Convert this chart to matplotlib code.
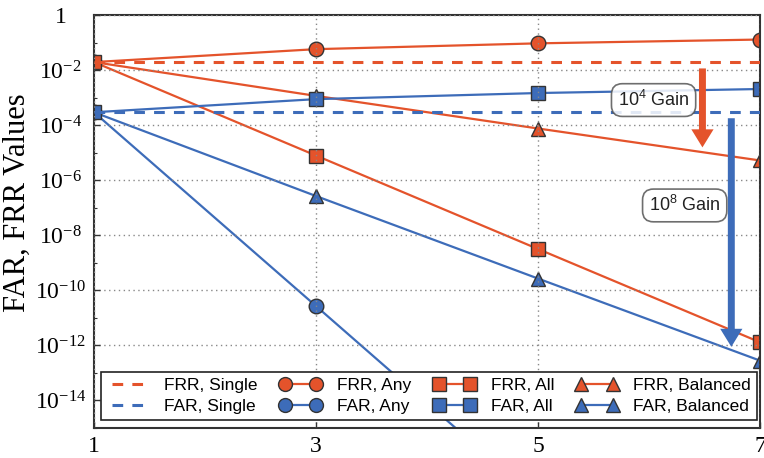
import matplotlib
matplotlib.use("Agg")
import matplotlib.pyplot as plt
import numpy as np

# ---- data ----
n_values = [1, 3, 5, 7]
frr_single = [2e-2, 2e-2, 2e-2, 2e-2]
far_single = [3e-4, 3e-4, 3e-4, 3e-4]
frr_any = [2e-2, 5.9e-2, 9.6e-2, 1.32e-1]
far_any = [3e-4, 2.7e-11, 2.4e-18, 2.2e-25]
frr_all = [2e-2, 8e-6, 3.2e-9, 1.3e-12]
far_all = [3e-4, 9e-4, 1.5e-3, 2.1e-3]
frr_bal = [2e-2, 1.18e-3, 7.7e-5, 5.3e-6]
far_bal = [3e-4, 2.7e-7, 2.7e-10, 2.8e-13]

ytick_vals = [1, 1e-2, 1e-4, 1e-6, 1e-8, 1e-10, 1e-12, 1e-14]
ytick_labels = ["1"] + [r"$\mathregular{10^{-%d}}$" % k for k in range(2, 15, 2)]
xtick_vals = [1, 3, 5, 7]
xtick_labels = ["1", "3", "5", "7"]

RED = "#E4532B"
BLUE = "#3D6CB9"
EDGE = "#333333"
SERIF = "Liberation Serif"
SANS = "Liberation Sans"

fig = plt.figure(figsize=(7.64, 4.58), dpi=100)
ax = fig.add_axes([0.123, 0.0655, 0.872, 0.901])
ax.set_yscale("log")

ms = 10.5
common = dict(lw=1.6, mec=EDGE, mew=1.0, ms=ms)

l1, = ax.plot(n_values, frr_single, color=RED, ls=(0, (3.5, 3)), lw=2.2, label="FRR, Single", zorder=3)
l2, = ax.plot(n_values, far_single, color=BLUE, ls=(0, (3.5, 3)), lw=2.2, label="FAR, Single", zorder=3)
l7, = ax.plot(n_values, frr_bal, color=RED, marker="^", mfc=RED, label="FRR, Balanced", markevery=[1, 2, 3], zorder=2, **common)
l8, = ax.plot(n_values, far_bal, color=BLUE, marker="^", mfc=BLUE, label="FAR, Balanced", markevery=[1, 2, 3], zorder=2, **common)
l3, = ax.plot(n_values, frr_any, color=RED, marker="o", mfc=RED, label="FRR, Any", zorder=2, **common)
l4, = ax.plot(n_values, far_any, color=BLUE, marker="o", mfc=BLUE, label="FAR, Any", zorder=2, **common)
l5, = ax.plot(n_values, frr_all, color=RED, marker="s", mfc=RED, label="FRR, All", zorder=2.1, **common)
l6, = ax.plot(n_values, far_all, color=BLUE, marker="s", mfc=BLUE, label="FAR, All", zorder=2.1, **common)

ax.set_xlim(1, 7)
ax.set_ylim(1e-15, 1)
ax.set_xticks(xtick_vals)
ax.set_xticklabels(xtick_labels, fontfamily=SERIF, fontsize=17)
ax.set_yticks(ytick_vals)
ax.set_yticklabels(ytick_labels, fontfamily=SERIF, fontsize=17, ha="center")
ax.yaxis.set_minor_locator(matplotlib.ticker.LogLocator(base=10, numticks=30))
ax.yaxis.set_minor_formatter(matplotlib.ticker.NullFormatter())
ax.tick_params(axis="x", which="major", direction="in", length=4, width=1, color=EDGE, pad=6)
ax.tick_params(axis="y", which="major", direction="in", length=4, width=1, color=EDGE, pad=24)
ax.tick_params(axis="y", which="minor", direction="in", length=2.5, width=0.8, color=EDGE)
ax.tick_params(axis="x", which="minor", length=0)

ax.set_axisbelow(False)
ax.grid(True, which="major", ls=(0, (1, 2.5)), color="#888888", lw=1.0, zorder=4)
for s in ax.spines.values():
    s.set_color(EDGE)
    s.set_linewidth(1.5)

ax.set_ylabel("FAR, FRR Values", fontfamily=SERIF, fontsize=22)
ax.yaxis.set_label_coords(-0.093, 0.545)

# gain arrows
ax.annotate("", xy=(6.48, 10**-4.8), xytext=(6.48, 10**-1.93),
            arrowprops=dict(arrowstyle="simple,head_length=0.65,head_width=0.8,tail_width=0.25",
                            mutation_scale=20, color=RED, lw=0, shrinkA=0, shrinkB=0), zorder=5)
ax.annotate("", xy=(6.74, 10**-12.05), xytext=(6.74, 10**-3.74),
            arrowprops=dict(arrowstyle="simple,head_length=0.65,head_width=0.8,tail_width=0.25",
                            mutation_scale=20, color=BLUE, lw=0, shrinkA=0, shrinkB=0), zorder=5)

bbox = dict(boxstyle="round,pad=0.35,rounding_size=0.6", fc="white", ec="#555555", lw=1.2, alpha=0.85)
ax.text(6.04, 10**-3.08, r"$\mathregular{10^4}$ Gain", fontfamily=SANS, fontsize=13,
        ha="center", va="center", bbox=bbox, zorder=6, color="#222222")
ax.text(6.32, 10**-6.91, r"$\mathregular{10^8}$ Gain", fontfamily=SANS, fontsize=13,
        ha="center", va="center", bbox=bbox, zorder=6, color="#222222")

leg = ax.legend(handles=[l1, l2, l3, l4, l5, l6, l7, l8], ncol=4, loc="lower left",
                bbox_to_anchor=(0.0105, 0.019, 0.985, 0.129), mode="expand",
                prop={"family": SANS, "size": 12.5}, frameon=True, fancybox=False,
                edgecolor="#222222", framealpha=1, numpoints=2, handlelength=2.4,
                handletextpad=0.9, borderpad=0.35, labelspacing=0.35, columnspacing=1.0,
                borderaxespad=0)
leg.get_frame().set_linewidth(1.2)
leg.set_zorder(7)
for h in leg.legend_handles:
    if hasattr(h, "set_markevery"):
        h.set_markevery(None)
    if hasattr(h, "set_markersize"):
        h.set_markersize(10)

fig.savefig("out.png", dpi=100)
